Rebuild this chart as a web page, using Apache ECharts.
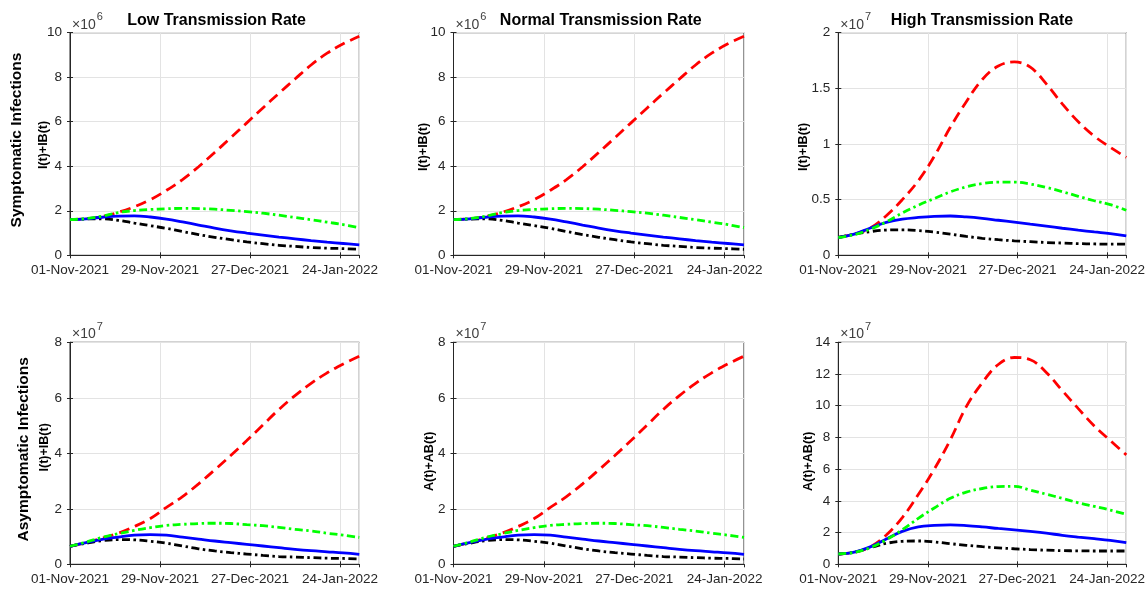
<!DOCTYPE html>
<html>
<head>
<meta charset="utf-8">
<script src="https://cdn.jsdelivr.net/npm/echarts@6/dist/echarts.min.js"></script>
<style>html,body{margin:0;padding:0;background:#fff}#c{width:1148px;height:589px}</style>
</head>
<body>
<div id="c"></div>
<script>
// Days since 01-Nov-2021
const days = [0,5,10,15,20,25,30,35,40,45,50,55,60,65,70,75,80,85,90];
const xTickLabels = ['01-Nov-2021','29-Nov-2021','27-Dec-2021','24-Jan-2022'];
const colTitles = ['Low Transmission Rate','Normal Transmission Rate','High Transmission Rate'];
const rowTitles = ['Symptomatic Infections','Asymptomatic Infections'];
const yLabels = ['I(t)+IB(t)','I(t)+IB(t)','I(t)+IB(t)','I(t)+IB(t)','A(t)+AB(t)','A(t)+AB(t)'];
const yExponents = [6,6,7,7,7,7];
const yMax = [10,10,2,8,8,14];
const yStep = [2,2,0.5,2,2,2];

// Symptomatic, low transmission (x10^6)
const symLowRed   = [1.60,1.64,1.74,1.93,2.18,2.50,2.92,3.40,3.98,4.62,5.28,5.95,6.62,7.28,7.92,8.55,9.08,9.50,9.84];
const symLowGreen = [1.60,1.65,1.76,1.92,2.01,2.06,2.09,2.11,2.10,2.07,2.02,1.96,1.89,1.80,1.70,1.60,1.49,1.38,1.24];
const symLowBlue  = [1.60,1.64,1.71,1.76,1.77,1.72,1.63,1.50,1.36,1.22,1.10,1.00,0.91,0.82,0.74,0.66,0.59,0.53,0.47];
const symLowBlack = [1.60,1.63,1.64,1.57,1.45,1.33,1.21,1.07,0.93,0.81,0.70,0.60,0.52,0.45,0.40,0.35,0.32,0.30,0.27];
// Symptomatic, normal transmission (x10^6)
const symNormRed   = symLowRed.slice();
const symNormGreen = symLowGreen.slice();
const symNormBlue  = symLowBlue.slice();
const symNormBlack = symLowBlack.slice();
// Symptomatic, high transmission (x10^7)
const symHighRed   = [0.16,0.19,0.245,0.355,0.50,0.67,0.89,1.15,1.38,1.58,1.70,1.737,1.69,1.54,1.36,1.20,1.07,0.97,0.88];
const symHighGreen = [0.16,0.185,0.235,0.30,0.38,0.45,0.51,0.57,0.615,0.645,0.657,0.657,0.64,0.61,0.572,0.53,0.49,0.455,0.405];
const symHighBlue  = [0.16,0.19,0.245,0.295,0.325,0.34,0.35,0.353,0.345,0.332,0.315,0.298,0.28,0.262,0.243,0.226,0.21,0.195,0.174];
const symHighBlack = [0.16,0.19,0.213,0.227,0.229,0.222,0.208,0.19,0.17,0.153,0.14,0.13,0.122,0.115,0.11,0.105,0.102,0.10,0.10];
// Asymptomatic, low transmission (x10^7)
const asyLowRed   = [0.65,0.78,0.94,1.12,1.36,1.65,2.05,2.44,2.90,3.40,3.92,4.46,5.02,5.58,6.08,6.52,6.90,7.22,7.50];
const asyLowGreen = [0.65,0.80,0.97,1.10,1.22,1.32,1.40,1.44,1.47,1.48,1.47,1.43,1.39,1.33,1.26,1.20,1.12,1.05,0.97];
const asyLowBlue  = [0.65,0.78,0.90,0.98,1.05,1.07,1.05,0.98,0.91,0.84,0.78,0.72,0.66,0.60,0.54,0.49,0.45,0.41,0.36];
const asyLowBlack = [0.65,0.76,0.85,0.89,0.88,0.83,0.76,0.66,0.56,0.48,0.42,0.37,0.32,0.28,0.26,0.24,0.22,0.21,0.19];
// Asymptomatic, normal transmission (x10^7)
const asyNormRed   = asyLowRed.slice();
const asyNormGreen = asyLowGreen.slice();
const asyNormBlue  = asyLowBlue.slice();
const asyNormBlack = asyLowBlack.slice();
// Asymptomatic, high transmission (x10^7)
const asyHighRed   = [0.65,0.75,1.10,1.85,2.95,4.40,6.00,7.85,9.94,11.45,12.60,13.04,12.90,12.10,10.95,9.82,8.72,7.80,6.90];
const asyHighGreen = [0.65,0.75,1.05,1.55,2.18,2.90,3.55,4.16,4.55,4.78,4.90,4.92,4.68,4.42,4.16,3.88,3.65,3.42,3.15];
const asyHighBlue  = [0.65,0.77,1.10,1.60,2.08,2.36,2.45,2.48,2.44,2.36,2.26,2.17,2.07,1.96,1.83,1.72,1.62,1.51,1.37];
const asyHighBlack = [0.65,0.77,1.05,1.32,1.45,1.47,1.41,1.30,1.20,1.11,1.04,0.98,0.93,0.89,0.86,0.85,0.84,0.84,0.84];

const panelData = [
  [symLowRed, symLowGreen, symLowBlue, symLowBlack],
  [symNormRed, symNormGreen, symNormBlue, symNormBlack],
  [symHighRed, symHighGreen, symHighBlue, symHighBlack],
  [asyLowRed, asyLowGreen, asyLowBlue, asyLowBlack],
  [asyNormRed, asyNormGreen, asyNormBlue, asyNormBlack],
  [asyHighRed, asyHighGreen, asyHighBlue, asyHighBlack]
];

// ---------- layout / style ----------
const FONT = 'Liberation Sans, Arial, sans-serif';
const AX = '#262626';
const colLeft = [70, 453.5, 838.3];
const colWidth = [289.3, 290.5, 289.4];
const rowTop = [32.7, 342.3];
const rowHeight = [222.6, 222];
const lineStyles = [
  {color:'#ff0000', type:[11,6]},
  {color:'#00ff00', type:[8,3.5,2.5,3.5]},
  {color:'#0000ff', type:'solid'},
  {color:'#000000', type:[8,3.5,2.5,3.5]}
];
const drawOrder = [0,3,2,1];
const yLabX = [[44, 423.5, 803.5],[45, 430, 809]];
const yLabDy = [[1, 3, 3],[-6, 8, 8]];

const grids = [], xAxes = [], yAxes = [], series = [], graphics = [];
for (let p = 0; p < 6; p++) {
  const r = Math.floor(p / 3), c = p % 3;
  const L = colLeft[c], T = rowTop[r], W = colWidth[c], H = rowHeight[r];
  grids.push({left: L, top: T, width: W, height: H, show: true, borderColor: AX, borderWidth: 1, backgroundColor: '#fff'});
  const xBase = {
    type: 'value', min: 0, max: 90, interval: 28, gridIndex: p,
    axisLine: {show: true, lineStyle: {color: AX, width: 1}},
    axisTick: {show: true, inside: true, length: 3, lineStyle: {color: AX}},
  };
  xAxes.push(Object.assign({}, xBase, {
    position: 'bottom',
    axisLabel: {show: true, color: AX, fontFamily: FONT, fontSize: 13.5, margin: 8, showMaxLabel: false,
      formatter: v => (v % 28 === 0 && v / 28 < xTickLabels.length) ? xTickLabels[v / 28] : ''},
    splitLine: {show: true, lineStyle: {color: '#e3e3e3', width: 1}}
  }));
  xAxes.push(Object.assign({}, xBase, {position: 'top', axisLabel: {show: false}, splitLine: {show: false}}));
  const yBase = {
    type: 'value', min: 0, max: yMax[p], interval: yStep[p], gridIndex: p,
    axisLine: {show: true, lineStyle: {color: AX, width: 1}},
    axisTick: {show: true, inside: true, length: 3, lineStyle: {color: AX}},
  };
  yAxes.push(Object.assign({}, yBase, {
    position: 'left',
    axisLabel: {show: true, color: AX, fontFamily: FONT, fontSize: 13.5, margin: 8},
    splitLine: {show: true, lineStyle: {color: '#e3e3e3', width: 1}}
  }));
  yAxes.push(Object.assign({}, yBase, {position: 'right', axisLabel: {show: false}, splitLine: {show: false}}));

  drawOrder.forEach((k, zi) => {
    series.push({
      type: 'line', xAxisIndex: 2 * p, yAxisIndex: 2 * p,
      data: days.map((d, i) => [d, panelData[p][k][i]]),
      smooth: 0.4, showSymbol: false, symbol: 'none', clip: true, z: 3 + zi,
      lineStyle: {color: lineStyles[k].color, type: lineStyles[k].type, width: 2.8, cap: 'butt'},
      silent: true, animation: false
    });
  });

  // exponent label
  graphics.push({
    type: 'text', left: L + 2, top: T - 21, z: 100,
    style: {
      text: '{a|×10}{b|' + yExponents[p] + '}',
      rich: {
        a: {fontFamily: FONT, fontSize: 14, fill: '#404040', verticalAlign: 'bottom', padding: [6, 0, 0, 0]},
        b: {fontFamily: FONT, fontSize: 11, fill: '#404040', verticalAlign: 'top', padding: [0, 0, 6, 1]}
      }
    }
  });
  // y-axis label
  graphics.push({
    type: 'text', x: yLabX[r][c], y: T + H / 2 + yLabDy[r][c], rotation: Math.PI / 2, z: 100,
    style: {text: yLabels[p], fontFamily: FONT, fontSize: 12.5, fontWeight: 'bold', fill: '#000',
      align: 'center', verticalAlign: 'middle'}
  });
  // column title
  if (r === 0) {
    graphics.push({
      type: 'text', x: L + W / 2 + (c === 2 ? -1 : 2), y: 21, z: 100,
      style: {text: colTitles[c], fontFamily: FONT, fontSize: 16, fontWeight: 'bold', fill: '#000',
        align: 'center', verticalAlign: 'middle'}
    });
  }
  if (c === 0) {
    graphics.push({
      type: 'text', x: r === 0 ? 17 : 24, y: T + H / 2 - 4, rotation: Math.PI / 2, z: 100,
      style: {text: rowTitles[r], fontFamily: FONT, fontSize: 15.5, fontWeight: 'bold', fill: '#000',
        align: 'center', verticalAlign: 'middle'}
    });
  }
}

const chart = echarts.init(document.getElementById('c'), null, {renderer: 'canvas'});
chart.setOption({
  animation: false,
  backgroundColor: '#fff',
  grid: grids, xAxis: xAxes, yAxis: yAxes, series: series, graphic: graphics
});
</script>
</body>
</html>
